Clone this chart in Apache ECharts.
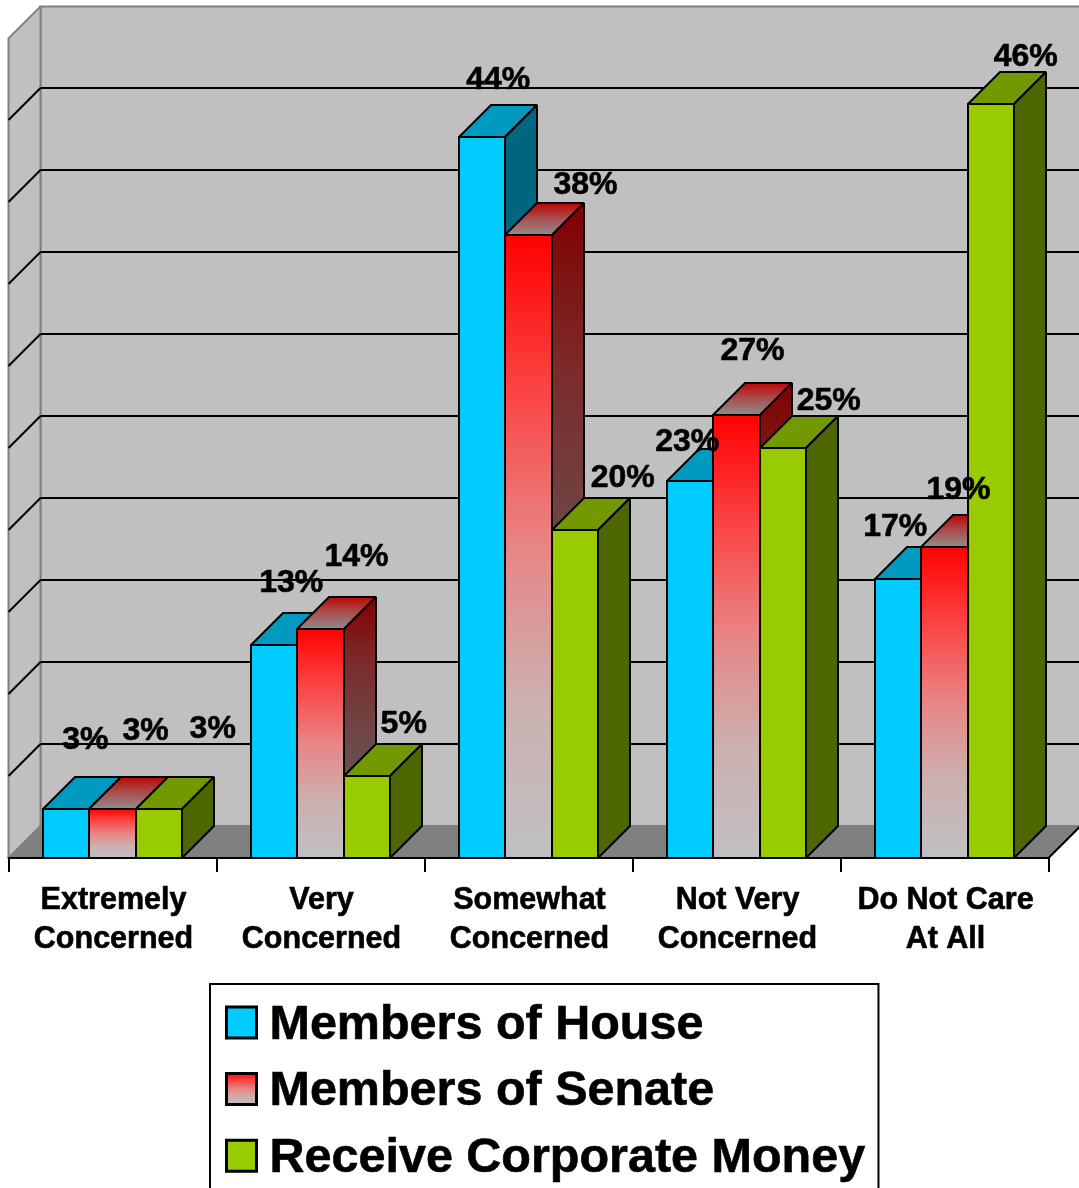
<!DOCTYPE html>
<html>
<head>
<meta charset="utf-8">
<style>html,body{margin:0;padding:0;background:#fff;overflow:hidden}#c{width:1079px;height:1188px}</style>
<script src="https://cdn.jsdelivr.net/npm/echarts@6/dist/echarts.min.js"></script>
</head>
<body>
<div id="c"></div>
<script>
const categories = ['Extremely\nConcerned', 'Very\nConcerned', 'Somewhat\nConcerned', 'Not Very\nConcerned', 'Do Not Care\nAt All'];
const houseValues = [3, 13, 44, 23, 17];
const senateValues = [3, 14, 38, 27, 19];
const corporateValues = [3, 5, 20, 25, 46];
const gridTicks = [5, 10, 15, 20, 25, 30, 35, 40, 45];

// Hand-placed label nudges from the top-centre of each bar's front face, in pixels.
const houseLabelNudge = [[19, -71], [17, -64], [16, -59], [-3, -41], [-3, -54]];
const senateLabelNudge = [[33, -80], [36, -73], [57, -52], [16, -66], [14, -58]];
const corporateLabelNudge = [[54, -82], [37, -54], [48, -54], [46, -49], [35, -49]];

const DEPTH = 32;
const FONT = '"Liberation Sans", Arial, sans-serif';
const vgrad = (...colors) => ({type: 'linear', x: 0, y: 0, x2: 0, y2: 1,
  colorStops: colors.map((color, k) => ({offset: k / (colors.length - 1), color}))});

const seriesDefs = [
  {name: 'Members of House', values: houseValues, nudge: houseLabelNudge,
   front: '#00CCFF', top: '#0099BF', side: '#006680'},
  {name: 'Members of Senate', values: senateValues, nudge: senateLabelNudge,
   front: vgrad('#FF0000', '#FB4444', '#E88585', '#CCB0B0', '#C0C0C0'),
   top: vgrad('#BF0000', '#A85050', '#909090'),
   side: vgrad('#800000', '#7C2A2A', '#704545', '#665555', '#606060')},
  {name: 'Receive Corporate Money', values: corporateValues, nudge: corporateLabelNudge,
   front: '#99CC00', top: '#739900', side: '#4D6600'}
];

function poly(points, fill, stroke, lineWidth) {
  return {type: 'polygon', shape: {points}, style: {fill, stroke: stroke || '#000', lineWidth: lineWidth || 2, lineJoin: 'miter', miterLimit: 2}};
}
function line(x1, y1, x2, y2, stroke, lineWidth) {
  return {type: 'line', shape: {x1, y1, x2, y2}, style: {stroke, lineWidth: lineWidth || 2, fill: null}};
}

const frameSeries = {
  type: 'custom', name: 'frame', silent: true, z: 1, clip: false,
  data: [[0]],
  renderItem(params) {
    const c = params.coordSys, l = c.x, r = c.x + c.width, t = c.y, b = c.y + c.height, d = DEPTH;
    return {type: 'group', children: [
      poly([[l + d, t - d], [r + d, t - d], [r + d, b - d], [l + d, b - d]], '#C0C0C0', '#808080', 2),
      poly([[l, t], [l + d, t - d], [l + d, b - d], [l, b]], '#C0C0C0', '#808080', 2)
    ]};
  }
};
const gridSeries = {
  type: 'custom', name: 'gridlines', silent: true, z: 2, clip: false,
  data: gridTicks.map(v => [0, v]),
  renderItem(params, api) {
    const c = params.coordSys, y = Math.round(api.coord([0, api.value(1)])[1]), d = DEPTH;
    return {type: 'group', children: [
      line(c.x + d, y - d, c.x + c.width + d, y - d, '#000'),
      line(c.x, y, c.x + d, y - d, '#000')
    ]};
  }
};
const floorSeries = {
  type: 'custom', name: 'floor', silent: true, z: 3, clip: false,
  data: [[0, 0]],
  renderItem(params) {
    const c = params.coordSys, l = c.x, r = c.x + c.width, b = c.y + c.height, d = DEPTH;
    return {type: 'group', children: [
      poly([[l, b], [l + d, b - d], [r + d, b - d], [r, b]], '#808080', '#808080', 1),
      line(r, b, r + d, b - d, '#000')
    ]};
  }
};

const barSeries = seriesDefs.map((def, j) => ({
  type: 'custom', name: def.name, silent: true, z: 4 + j, clip: false,
  itemStyle: {color: def.front},
  data: def.values.map((v, i) => [i, v]),
  renderItem(params, api) {
    const band = api.size([1, 0])[0], w = band / 4.5, d = DEPTH;
    const top = api.coord([api.value(0), api.value(1)]);
    const base = api.coord([api.value(0), 0]);
    const x0 = Math.round(top[0] + (j - 1.5) * w), x1 = Math.round(top[0] + (j - 0.5) * w), yt = Math.round(top[1]), yb = Math.round(base[1]);
    return {type: 'group', children: [
      poly([[x0, yt], [x0 + d, yt - d], [x1 + d, yt - d], [x1, yt]], def.top),
      poly([[x1, yt], [x1 + d, yt - d], [x1 + d, yb - d], [x1, yb]], def.side),
      poly([[x0, yt], [x1, yt], [x1, yb], [x0, yb]], def.front)
    ]};
  }
}));

const labelSeries = seriesDefs.map((def, j) => ({
  type: 'custom', name: def.name + ' labels', silent: true, z: 20, clip: false,
  data: def.values.map((v, i) => [i, v]),
  renderItem(params, api) {
    const band = api.size([1, 0])[0], w = band / 4.5;
    const i = api.value(0), p = api.coord([i, api.value(1)]);
    const n = def.nudge[i];
    return {type: 'text', style: {
      text: api.value(1) + '%', x: p[0] + (j - 1) * w + n[0], y: p[1] + n[1] + 2,
      font: 'bold 32px ' + FONT, fill: '#000', stroke: '#000', lineWidth: 0.6,
      textAlign: 'center', textVerticalAlign: 'middle'
    }};
  }
}));

const legendTextStyle = {color: '#000', fontFamily: FONT, fontWeight: 'bold', fontSize: 48.5, lineHeight: 48,
  padding: [6, 0, 0, 8], textBorderColor: '#000', textBorderWidth: 0.6};

const chart = echarts.init(document.getElementById('c'), null, {renderer: 'canvas', width: 1079, height: 1188});
chart.setOption({
  animation: false,
  backgroundColor: '#fff',
  grid: {left: 8.5, top: 38.4, width: 1040, height: 819.6, containLabel: false},
  xAxis: {
    type: 'category', data: categories, z: 10,
    axisLine: {show: true, lineStyle: {color: '#000', width: 2}},
    axisTick: {show: true, length: 14, lineStyle: {color: '#000', width: 2}},
    axisLabel: {interval: 0, margin: 23, color: '#000', fontFamily: FONT, padding: [0, 0, 0, 2],
      fontWeight: 'bold', fontSize: 30.5, lineHeight: 39, textBorderColor: '#000', textBorderWidth: 0.6},
    splitLine: {show: false}
  },
  yAxis: {type: 'value', min: 0, max: 50, interval: 5, axisLine: {show: false}, axisTick: {show: false},
    axisLabel: {show: false}, splitLine: {show: false}},
  legend: {
    orient: 'vertical', left: 210, top: 984, height: 210, padding: [11, 13, 12, 15], selectedMode: false,
    backgroundColor: '#fff', borderColor: '#000', borderWidth: 2, itemWidth: 30, itemHeight: 31, itemGap: 11.3,
    icon: 'rect', itemStyle: {borderColor: '#000', borderWidth: 3},
    formatter: name => '{a|' + name + '}',
    textStyle: {rich: {a: legendTextStyle}},
    data: seriesDefs.map(d => d.name)
  },
  tooltip: {show: false},
  series: [frameSeries, gridSeries, floorSeries, ...barSeries, ...labelSeries]
});
</script>
</body>
</html>
